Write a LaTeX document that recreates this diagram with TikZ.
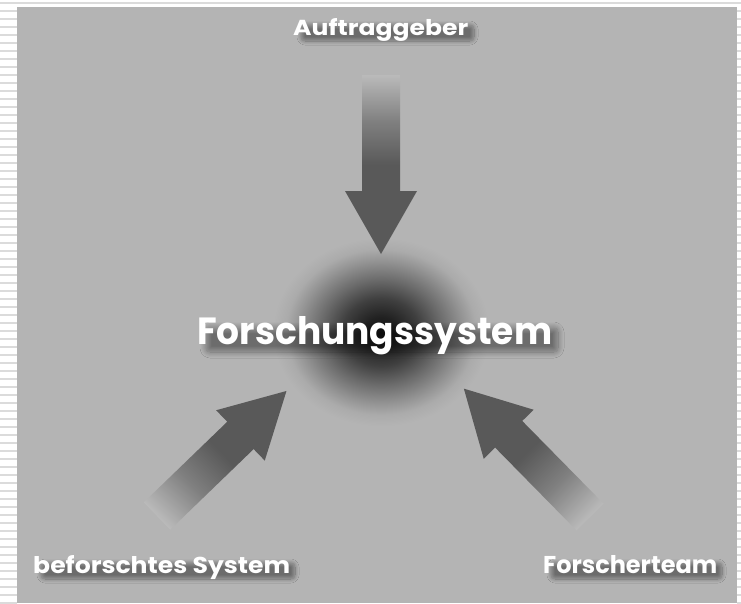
\documentclass[tikz,border=0pt]{standalone}
\usepackage{fontspec}
\setmainfont{Poppins}
\usetikzlibrary{shadows.blur,calc}
\definecolor{bg}{gray}{0.705}
\definecolor{stripe}{gray}{0.86}
\definecolor{arrdark}{gray}{0.35}
\definecolor{arrmid}{gray}{0.50}
\definecolor{arrlight}{gray}{0.73}
\definecolor{blobA}{gray}{0.08}
\definecolor{blobB}{gray}{0.13}
\definecolor{blobC}{gray}{0.25}
\definecolor{blobD}{gray}{0.42}
\definecolor{blobE}{gray}{0.58}
\definecolor{blobF}{gray}{0.67}
\pgfdeclarehorizontalshading{arrowshade}{100bp}{color(0bp)=(arrlight); color(25bp)=(arrlight); color(38bp)=(arrmid); color(50bp)=(arrdark); color(75bp)=(arrdark); color(100bp)=(arrdark)}
\pgfdeclareradialshading{blob}{\pgfpoint{0bp}{0bp}}{color(0bp)=(blobA); color(4bp)=(blobB); color(9bp)=(blobC); color(14bp)=(blobD); color(19bp)=(blobE); color(22bp)=(blobF); color(25bp)=(bg); color(50bp)=(bg)}
\tikzset{
  lbl/.style={text=white, font=\bfseries, inner sep=0pt},
  txtshadow/.style={rounded corners=4pt,
    blur shadow={shadow xshift=0pt, shadow yshift=0pt, shadow blur radius=#1, shadow opacity=40, shadow blur steps=12}},
  blockarrow/.style={shading=arrowshade}
}
\begin{document}
\begin{tikzpicture}[x=1pt,y=-1pt]
  \fill[white] (0,0) rectangle (741,603);
  \useasboundingbox (0,0) rectangle (741,603);
  % stripes
  \foreach \k in {0,...,75}{
    \fill[stripe] (0,{1.5+8*\k}) rectangle (17,{3.5+8*\k});
    \fill[stripe] (737,{1.5+8*\k}) rectangle (741,{3.5+8*\k});
  }
  \fill[stripe] (17,2) rectangle (737,3.5);
  % main area
  \fill[bg] (17,7) rectangle (737,603);
  % central dark blob
  \shade[shading=blob] (381,332) ellipse [x radius=108, y radius=94];
  % arrow anchors
  \coordinate (tailA) at (381,75);
  \coordinate (tailB) at (157,516);
  \coordinate (tailC) at (590,517);
  % arrows
  \begin{scope}[transform canvas={shift={(tailA)}, rotate=-90}]
    \shade[blockarrow] (0,-19) -- (116,-19) -- (116,-36) -- (179,0) -- (116,36) -- (116,19) -- (0,19) -- cycle;
  \end{scope}
  \begin{scope}[transform canvas={shift={(tailB)}, rotate=44}]
    \shade[blockarrow] (0,-19) -- (116,-19) -- (116,-35) -- (180,0) -- (116,35) -- (116,19) -- (0,19) -- cycle;
  \end{scope}
  \begin{scope}[transform canvas={shift={(tailC)}, rotate=134.5}]
    \shade[blockarrow] (0,-19) -- (116,-19) -- (116,-35) -- (180,0) -- (116,35) -- (116,19) -- (0,19) -- cycle;
  \end{scope}
  % soft text shadows (drawn first, under the labels)
  \path[txtshadow=4pt] (301,25) rectangle (474,41);
  \path[txtshadow=6pt] (206,328) rectangle (558,352);
  \path[txtshadow=4pt] (41,563) rectangle (295,579);
  \path[txtshadow=4pt] (551,563) rectangle (722,579);
  % labels
  \node[lbl, anchor=base west] (auf) at (293,35) {\resizebox{175pt}{17pt}{Auftraggeber}};
  \node[lbl, anchor=base west] (fs) at (197,344) {\resizebox{355pt}{28pt}{Forschungssystem}};
  \node[lbl, anchor=base west] (bs) at (33,573) {\resizebox{257pt}{18pt}{beforschtes System}};
  \node[lbl, anchor=base west] (ft) at (543,573) {\resizebox{174pt}{18pt}{Forscherteam}};
\end{tikzpicture}
\end{document}
